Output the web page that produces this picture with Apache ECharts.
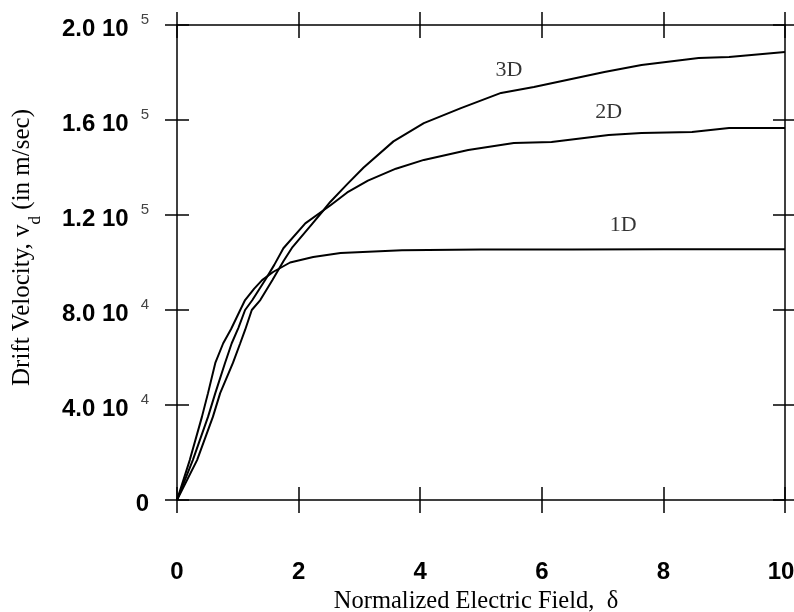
<!DOCTYPE html>
<html><head><meta charset="utf-8">
<script src="https://cdn.jsdelivr.net/npm/echarts/dist/echarts.min.js"></script>
<style>html,body{margin:0;padding:0;background:#fff;overflow:hidden}#c{width:794px;height:612px}</style>
</head><body><div id="c"></div>
<script>
// ---- data ----
const field1D = [0, 0.21, 0.41, 0.51, 0.63, 0.76, 0.89, 1.04, 1.12, 1.27, 1.40, 1.58, 1.86, 2.24, 2.69, 3.7, 5.0, 6.5, 8.0, 10.0];
const vel1D   = [0, 16800, 35000, 45000, 57700, 66000, 72000, 80000, 84200, 89000, 92600, 96000, 100000, 102300, 104000, 105200, 105500, 105500, 105600, 105600];

const field2D = [0, 0.26, 0.51, 0.63, 0.79, 0.90, 1.01, 1.12, 1.24, 1.45, 1.60, 1.75, 2.11, 2.41, 2.52, 2.8, 3.14, 3.6, 4.06, 4.79, 5.54, 6.16, 7.10, 7.64, 8.47, 9.08, 10.0];
const vel2D   = [0, 16800, 35000, 45000, 57700, 66000, 72500, 80000, 84200, 92600, 99000, 106000, 116500, 122000, 124000, 129500, 134500, 139500, 143200, 147400, 150300, 150700, 153700, 154500, 154900, 156600, 156600];

const field3D = [0, 0.33, 0.59, 0.71, 0.92, 1.04, 1.12, 1.23, 1.37, 1.57, 1.75, 1.90, 2.23, 2.41, 2.52, 2.8, 3.07, 3.56, 4.06, 4.67, 5.33, 5.87, 7.03, 7.64, 8.58, 9.08, 10.0];
const vel3D   = [0, 16800, 35000, 45000, 57700, 66000, 71600, 80000, 84200, 92600, 100500, 106500, 116500, 122000, 125500, 133000, 140000, 151000, 158700, 165000, 171400, 173900, 180200, 183200, 186100, 186500, 188600];

const curveLabels = ['3D', '2D', '1D'];
const curveLabelField = [5.46, 7.10, 7.34];
const curveLabelVel = [181000, 163400, 115800];

const xTicks = [0, 2, 4, 6, 8, 10];
const xTickLabels = ['0', '2', '4', '6', '8', '10'];
const yTicks = [0, 40000, 80000, 120000, 160000, 200000];
const yTickMantissa = ['0', '4.0', '8.0', '1.2', '1.6', '2.0'];
const yTickExponent = ['', '4', '4', '5', '5', '5'];

const xTitle = 'Normalized Electric Field,  δ';
const yTitleA = 'Drift Velocity, v';
const yTitleSub = 'd';
const yTitleB = ' (in m/sec)';

// ---- chart ----
const zip = (xs, ys) => xs.map((x, i) => [x, ys[i]]);
const black = '#000';
const line = { color: black, width: 1.5 };
const tickStyle = { color: black, width: 1.5 };
const xLabelFont = { fontFamily: 'Liberation Sans', fontWeight: 'bold', fontSize: 24, color: '#000' };

function xAx(pos, inside, main) {
  return {
    type: 'value', position: pos, min: 0, max: 10, interval: 2,
    axisLine: { show: !inside, onZero: false, lineStyle: line },
    axisTick: { show: true, inside: inside, length: 13, lineStyle: tickStyle },
    axisLabel: main ? {
      show: true, margin: 60,
      formatter: v => {
        const i = xTicks.indexOf(v);
        if (i < 0) return '';
        return i === xTicks.length - 1 ? `{last|${xTickLabels[i]}}` : `{n|${xTickLabels[i]}}`;
      },
      rich: {
        n: Object.assign({}, xLabelFont),
        last: Object.assign({ padding: [0, 8, 0, 0] }, xLabelFont)
      }
    } : { show: false },
    splitLine: { show: false },
    name: main ? xTitle : '', nameLocation: 'middle', nameGap: 88,
    nameTextStyle: { fontFamily: 'Liberation Serif', fontSize: 24.5, color: '#000', padding: [0, 10, 0, 0] }
  };
}
function yAx(pos, inside, main) {
  return {
    type: 'value', position: pos, min: 0, max: 200000, interval: 40000,
    axisLine: { show: !inside, onZero: false, lineStyle: line },
    axisTick: { show: true, inside: inside, length: 12, lineStyle: tickStyle },
    axisLabel: main ? {
      show: true, margin: 28, padding: [8, 0, 0, 0],
      formatter: v => {
        const i = yTicks.indexOf(v);
        if (i < 0) return '';
        return yTickExponent[i] ? `{m|${yTickMantissa[i]} 10}{e|${yTickExponent[i]}}` : `{z|${yTickMantissa[i]}}`;
      },
      rich: {
        m: { fontFamily: 'Liberation Sans', fontWeight: 'bold', fontSize: 24, color: '#000', lineHeight: 40, verticalAlign: 'middle' },
        e: { fontFamily: 'Liberation Sans', fontSize: 15, color: '#444', lineHeight: 15, verticalAlign: 'top', padding: [3, 0, 0, 12] },
        z: { fontFamily: 'Liberation Sans', fontWeight: 'bold', fontSize: 24, color: '#000', lineHeight: 26 }
      }
    } : { show: false },
    splitLine: { show: false },
    name: main ? `{a|${yTitleA}}{s|${yTitleSub}}{a|${yTitleB}}` : '',
    nameLocation: 'middle', nameGap: 141,
    nameTextStyle: {
      padding: [0, 0, 0, 30],
      rich: {
        a: { fontFamily: 'Liberation Serif', fontSize: 25, color: '#000', lineHeight: 28 },
        s: { fontFamily: 'Liberation Serif', fontSize: 17, color: '#000', lineHeight: 28, verticalAlign: 'bottom', padding: [0, 0, -8, 0] }
      }
    }
  };
}

const lineSeries = (data) => ({
  type: 'line', data: data, showSymbol: false, symbol: 'none', smooth: false,
  xAxisIndex: 0, yAxisIndex: 0,
  lineStyle: { color: black, width: 2 }, z: 5
});

const chart = echarts.init(document.getElementById('c'), null, { renderer: 'canvas' });
chart.setOption({
  animation: false,
  backgroundColor: '#fff',
  grid: { left: 177, right: 9, top: 25, bottom: 112, containLabel: false, outerBoundsMode: 'none' },
  xAxis: [xAx('bottom', false, true), xAx('bottom', true, false), xAx('top', false, false), xAx('top', true, false)],
  yAxis: [yAx('left', false, true), yAx('left', true, false), yAx('right', false, false), yAx('right', true, false)],
  series: [
    lineSeries(zip(field1D, vel1D)),
    lineSeries(zip(field2D, vel2D)),
    lineSeries(zip(field3D, vel3D)),
    {
      type: 'scatter', xAxisIndex: 0, yAxisIndex: 0, symbolSize: 0,
      data: curveLabels.map((t, i) => [curveLabelField[i], curveLabelVel[i], t]),
      label: { show: true, position: 'inside', formatter: p => p.data[2],
        fontFamily: 'Liberation Serif', fontSize: 22, color: '#000' },
      silent: true
    }
  ]
});
</script></body></html>
